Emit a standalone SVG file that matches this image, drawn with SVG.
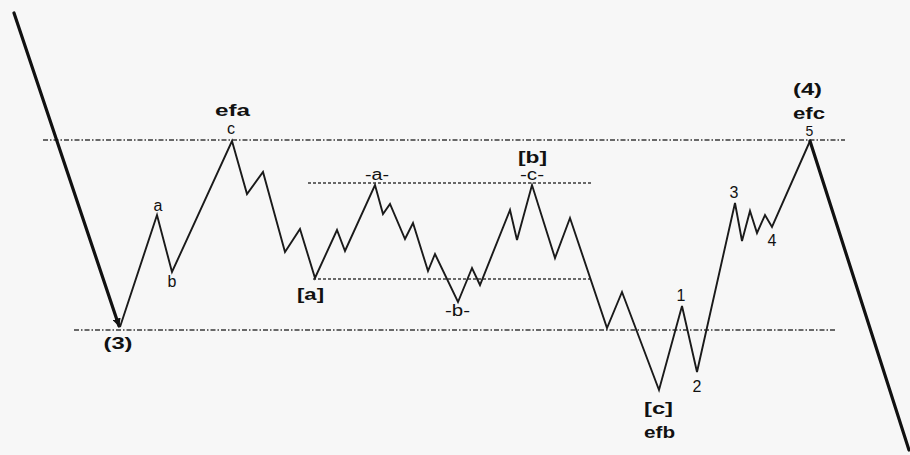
<svg xmlns="http://www.w3.org/2000/svg" width="910" height="455" viewBox="0 0 910 455">
  <defs>
    <style>
      .bg { fill: #f7f7f7; }
      .thick { fill: none; stroke: #111; stroke-width: 3.2; stroke-linecap: round; }
      .wave { fill: none; stroke: #1a1a1a; stroke-width: 1.9; stroke-linejoin: miter; }
      .outer { stroke: #3a3a3a; stroke-width: 1.4; stroke-dasharray: 5 2 1.5 2; fill: none; }
      .inner { stroke: #3a3a3a; stroke-width: 1.6; stroke-dasharray: 3 2; fill: none; }
      .big { font-family: "Liberation Sans", Arial, sans-serif; font-weight: bold; font-size: 16px; fill: #111; text-anchor: middle; }
      .small { font-family: "Liberation Sans", Arial, sans-serif; font-size: 16px; fill: #111; text-anchor: middle; }
    </style>
    <marker id="arr" viewBox="0 0 10 10" refX="9" refY="5" markerWidth="2.6" markerHeight="2.6" orient="auto" markerUnits="strokeWidth">
      <path d="M0,0 L10,5 L0,10 Z" fill="#111"/>
    </marker>
  </defs>
  <rect class="bg" x="0" y="0" width="910" height="455"/>

  <g id="guides">
    <line class="outer" x1="43" y1="140" x2="845" y2="140"/>
    <line class="outer" x1="74" y1="330" x2="835" y2="330"/>
    <line class="inner" x1="308" y1="183" x2="592" y2="183"/>
    <line class="inner" x1="313" y1="279" x2="590" y2="279"/>
  </g>

  <g id="connectors">
    <line class="thick" x1="14" y1="13" x2="119" y2="326" marker-end="url(#arr)"/>
    <polyline class="wave" points="120,327 157,215 172,272 232,141 247,194 263,172 285,252 300,229 315,278 337,230 345,251 375,185 383,214 390,204 405,239 413,223 428,271 435,254 458,302 472,268 480,285 510,210 517,240 532,185 555,258 570,218 607,328 622,292 659,390 682,306 697,372 735,203 742,241 750,211 757,233 765,215 772,227 810,141"/>
    <line class="thick" x1="810" y1="141" x2="909" y2="450"/>
  </g>

  <g id="n3"><text class="big" x="118" y="349" textLength="29" lengthAdjust="spacingAndGlyphs">(3)</text></g>
  <g id="na"><text class="small" x="158" y="211">a</text></g>
  <g id="nb"><text class="small" x="172" y="287">b</text></g>
  <g id="nefa">
    <text class="big" x="232.5" y="116" textLength="35" lengthAdjust="spacingAndGlyphs">efa</text>
    <text class="small" x="231" y="134">c</text>
  </g>
  <g id="nA"><text class="big" x="310.5" y="300" textLength="27" lengthAdjust="spacingAndGlyphs">[a]</text></g>
  <g id="nwa"><text class="small" x="377" y="180" textLength="24" lengthAdjust="spacingAndGlyphs">-a-</text></g>
  <g id="nwb"><text class="small" x="457.5" y="316" textLength="25" lengthAdjust="spacingAndGlyphs">-b-</text></g>
  <g id="nB">
    <text class="big" x="532.5" y="163" textLength="29" lengthAdjust="spacingAndGlyphs">[b]</text>
    <text class="small" x="532" y="180" textLength="24" lengthAdjust="spacingAndGlyphs">-c-</text>
  </g>
  <g id="nC">
    <text class="big" x="658.5" y="414" textLength="29" lengthAdjust="spacingAndGlyphs">[c]</text>
    <text class="big" x="659.5" y="438" textLength="31" lengthAdjust="spacingAndGlyphs">efb</text>
  </g>
  <g id="n1"><text class="small" x="681" y="301">1</text></g>
  <g id="n2"><text class="small" x="697" y="392">2</text></g>
  <g id="n3s"><text class="small" x="734" y="198">3</text></g>
  <g id="n4s"><text class="small" x="772" y="246">4</text></g>
  <g id="n4">
    <text class="big" x="807.5" y="95" textLength="29" lengthAdjust="spacingAndGlyphs">(4)</text>
    <text class="big" x="809" y="119" textLength="32" lengthAdjust="spacingAndGlyphs">efc</text>
    <text class="small" x="809.5" y="136" style="font-size:14px">5</text>
  </g>
</svg>
